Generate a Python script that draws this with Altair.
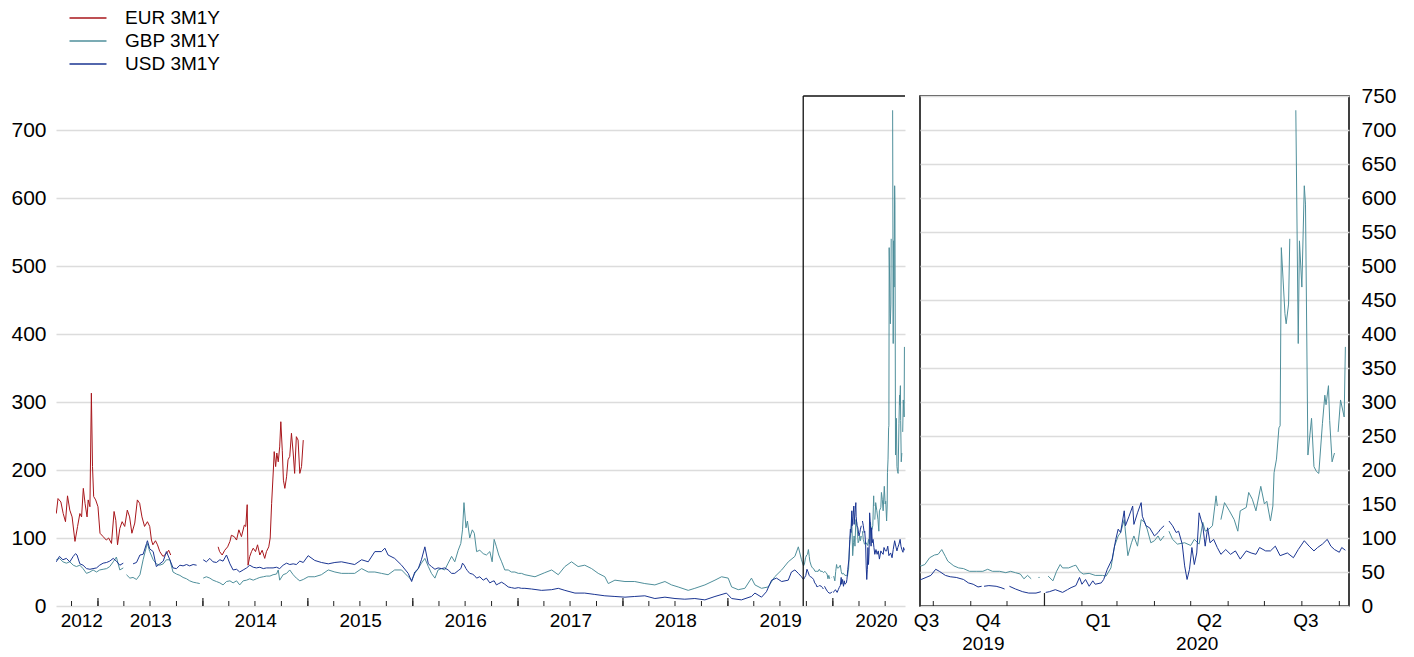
import altair as alt
import pandas as pd

SERIES = ["EUR 3M1Y", "GBP 3M1Y", "USD 3M1Y"]
COLORS = ["#a8161b", "#4f8f9b", "#1a3592"]

# ---- EUR 3M1Y (None marks a gap in the series) ----
EUR_DATES = [
    "2012-08-09", "2012-08-15", "2012-08-25", "2012-09-02", "2012-09-10", "2012-09-17", "2012-09-25", "2012-10-03", "2012-10-13", "2012-10-22",
    "2012-10-30", "2012-11-05", "2012-11-11", "2012-11-17", "2012-11-24", "2012-11-28", "2012-12-04", "2012-12-09", "2012-12-13", "2012-12-17",
    "2012-12-24", "2013-01-01", "2013-01-08", "2013-01-19", "2013-01-30", "2013-02-07", "2013-02-17", "2013-02-26", "2013-03-04", "2013-03-10",
    "2013-03-18", "2013-03-26", "2013-04-04", "2013-04-13", "2013-04-21", "2013-04-29", "2013-05-09", "2013-05-18", "2013-05-26", "2013-06-03",
    "2013-06-12", "2013-06-22", "2013-06-30", "2013-07-06", "2013-07-11", "2013-07-20", "2013-07-27", "2013-08-04", "2013-08-15", "2013-08-27",
    "2013-09-04", "2013-09-11",
    "2013-12-01",
    "2014-02-23", "2014-02-28", "2014-03-09", "2014-03-18", "2014-03-28", "2014-04-05", "2014-04-10", "2014-04-20", "2014-04-28", "2014-05-06",
    "2014-05-15", "2014-05-25", "2014-05-30", "2014-06-04", "2014-06-07", "2014-06-13", "2014-06-19", "2014-06-25", "2014-07-03", "2014-07-10",
    "2014-07-18", "2014-07-26", "2014-08-04", "2014-08-10", "2014-08-18", "2014-08-23", "2014-08-28", "2014-09-03", "2014-09-06", "2014-09-11",
    "2014-09-15", "2014-09-20", "2014-09-25", "2014-09-29", "2014-10-04", "2014-10-08", "2014-10-13", "2014-10-19", "2014-10-24", "2014-10-30",
    "2014-11-05", "2014-11-11", "2014-11-16", "2014-11-22", "2014-11-28", "2014-12-04", "2014-12-10", "2014-12-16",
]
EUR_VALUES = [
    136, 158, 153, 136, 124, 162, 141, 131, 95, 117,
    136, 131, 173, 151, 131, 156, 146, 313, 205, 161,
    156, 146, 107, 102, 97, 100, 92, 139, 126, 90,
    114, 124, 117, 141, 131, 107, 122, 156, 151, 131,
    117, 124, 117, 97, 90, 96, 90, 80, 73, 77,
    82, 75,
    None,
    87, 80, 75, 82, 87, 95, 104, 102, 97, 112,
    102, 119, 117, 149, 60, 73, 80, 85, 80, 90,
    75, 82, 70, 80, 87, 100, 151, 200, 227, 205,
    225, 212, 234, 271, 229, 185, 173, 190, 215, 220,
    254, 225, 195, 249, 244, 195, 205, 244,
]

# ---- GBP 3M1Y ----
GBP_DATES = [
    "2012-08-09", "2012-08-20", "2012-09-01", "2012-09-13", "2012-09-25", "2012-10-07", "2012-10-18", "2012-10-30", "2012-11-10", "2012-11-22",
    "2012-12-04", "2012-12-15", "2012-12-27", "2013-01-07", "2013-01-19", "2013-01-31", "2013-02-11", "2013-02-23", "2013-03-06", "2013-03-18",
    "2013-03-30", "2013-04-05", "2013-04-10", "2013-04-22", "2013-05-03", "2013-05-15", "2013-05-27", "2013-06-07", "2013-06-19", "2013-06-22",
    "2013-06-30", "2013-07-12", "2013-07-23", "2013-08-04", "2013-08-16", "2013-08-27", "2013-09-08", "2013-09-19", "2013-10-01", "2013-10-13",
    "2013-10-24", "2013-11-05", "2013-11-16", "2013-11-28", "2013-12-10", "2013-12-21", "2013-12-26", "2014-01-02", "2014-01-13", "2014-01-25",
    "2014-02-05", "2014-02-17", "2014-03-01", "2014-03-12", "2014-03-24", "2014-04-05", "2014-04-16", "2014-04-28", "2014-05-09", "2014-05-21",
    "2014-06-02", "2014-06-13", "2014-06-25", "2014-07-06", "2014-07-18", "2014-07-30", "2014-08-10", "2014-08-22", "2014-09-02", "2014-09-14",
    "2014-09-20", "2014-09-25", "2014-10-07", "2014-10-19", "2014-10-30", "2014-11-11", "2014-11-22", "2014-12-04", "2014-12-16", "2015-01-02",
    "2015-01-25", "2015-02-17", "2015-03-13", "2015-04-05", "2015-04-28", "2015-05-21", "2015-06-13", "2015-07-07", "2015-07-30", "2015-08-22",
    "2015-09-14", "2015-10-07", "2015-10-30", "2015-11-23", "2015-12-16", "2015-12-28", "2016-01-08", "2016-01-20", "2016-01-31", "2016-02-12",
    "2016-02-24", "2016-03-06", "2016-03-18", "2016-03-29", "2016-04-10", "2016-04-21", "2016-05-03", "2016-05-15", "2016-05-26", "2016-06-07",
    "2016-06-16", "2016-06-22", "2016-06-27", "2016-07-04", "2016-07-09", "2016-07-17", "2016-07-26", "2016-08-02", "2016-08-10", "2016-08-21",
    "2016-09-02", "2016-09-13", "2016-09-25", "2016-10-03", "2016-10-10", "2016-10-18", "2016-10-26", "2016-11-05", "2016-11-16", "2016-11-28",
    "2016-12-09", "2016-12-21", "2017-01-02", "2017-01-13", "2017-01-25", "2017-03-01", "2017-04-04", "2017-04-28", "2017-05-21", "2017-06-13",
    "2017-07-06", "2017-07-29", "2017-08-21", "2017-09-14", "2017-10-07", "2017-10-30", "2017-11-11", "2017-12-04", "2018-01-08", "2018-02-11",
    "2018-03-18", "2018-04-22", "2018-05-27", "2018-06-19", "2018-07-12", "2018-08-16", "2018-09-08", "2018-10-13", "2018-11-17", "2018-12-10",
    "2019-01-02", "2019-01-14", "2019-02-06", "2019-03-01", "2019-03-24", "2019-04-05", "2019-04-28", "2019-05-21", "2019-06-13", "2019-07-07",
    "2019-07-30", "2019-08-22", "2019-09-03", "2019-09-14", "2019-09-21", "2019-09-24", "2019-09-28", "2019-10-02", "2019-10-05", "2019-10-08",
    "2019-10-11", "2019-10-13", "2019-10-18", "2019-10-22", "2019-10-26", "2019-10-31", "2019-11-06", "2019-11-11", "2019-11-15", "2019-11-19",
    "2019-11-25", "2019-11-30", "2019-12-04", "2019-12-08", "2019-12-12", "2019-12-15", "2019-12-18", "2019-12-21", "2019-12-24", "2019-12-27",
    "2019-12-28", "2019-12-31", "2020-01-04", "2020-01-08", "2020-01-11", "2020-01-14", "2020-01-16", "2020-01-21", "2020-01-25", "2020-01-27",
    "2020-01-30", "2020-02-02", "2020-02-07", "2020-02-12", "2020-02-18", "2020-02-21", "2020-02-25", "2020-02-28", "2020-03-02", "2020-03-04",
    "2020-03-07", "2020-03-10", "2020-03-13", "2020-03-15", "2020-03-18", "2020-03-21", "2020-03-24", "2020-03-26", "2020-03-29", "2020-04-01",
    "2020-04-04", "2020-04-06", "2020-04-09", "2020-04-11", "2020-04-13", "2020-04-16", "2020-04-20", "2020-04-26", "2020-05-01", "2020-05-04",
    "2020-05-08", "2020-05-11", "2020-05-13", "2020-05-16", "2020-05-19", "2020-05-22", "2020-05-23", "2020-05-25", "2020-05-26", "2020-05-29",
    "2020-06-02", "2020-06-06", "2020-06-09", "2020-06-11", "2020-06-16", "2020-06-18", "2020-06-21", "2020-06-24", "2020-06-28", "2020-07-01",
    "2020-07-03", "2020-07-06", "2020-07-08", "2020-07-09", "2020-07-11", "2020-07-13", "2020-07-14", "2020-07-15", "2020-07-18", "2020-07-19",
    "2020-07-21", "2020-07-22", "2020-07-25", "2020-07-27", "2020-07-29", "2020-07-30", "2020-08-01", "2020-08-03", "2020-08-04", "2020-08-06",
    "2020-08-09", "2020-08-11", "2020-08-13", "2020-08-15", "2020-08-18", "2020-08-20", "2020-08-21", "2020-08-23", "2020-08-24", "2020-08-26",
    "2020-08-28", "2020-08-30", "2020-08-31", "2020-09-02", "2020-09-05", "2020-09-06",
]
GBP_VALUES = [
    68, 70, 65, 63, 65, 60, 58, 60, 55, 48,
    50, 53, 50, 53, 54, 55, 58, 65, 72, 53,
    56, None, 46, 41, 42, 39, 46, 68, 88, 92,
    80, 68, 62, 60, 62, 68, 68, 50, 47, 45,
    42, 40, 37, 35, 34, 33, None, 41, 43, 41,
    38, 36, 34, 31, 36, 37, 34, 37, 31, 37,
    38, 40, 38, 40, 42, 43, 44, 44, 46, 47,
    53, 38, 46, 48, 53, 46, 41, 37, 39, 43,
    43, 46, 53, 50, 48, 48, 48, 55, 50, 50,
    48, 46, 53, 53, 43, 38, 48, 55, 63, 70,
    58, 48, 41, 53, 55, 53, 63, 73, 65, 82,
    92, 112, 152, 115, 125, 100, 112, 107, 80, 82,
    77, 75, 80, 65, 98, 87, 75, 65, 53, 53,
    50, 50, 48, 48, 46, 43, 49, 53, 46, 58,
    65, 58, 60, 55, 48, 43, 33, 38, 36, 36,
    33, 31, 36, 31, 28, 23, 26, 31, 38, 43,
    41, 28, 24, 26, 41, 31, 26, 28, 43, 53,
    65, 73, 87, 68, 59, 61, 71, 75, 76, 83,
    73, 66, 59, 56, 55, 51, 51, 51, 54, 51,
    51, 49, 51, 49, 47, 40, 45, 40, None, 42,
    42, None, 44, 37, 51, 61, 56, 56, 59, 60,
    51, 47, 48, 45, 45, 44, 56, 88, 103, 108,
    127, 74, 93, 103, 88, 127, 123, 113, 93, 96,
    103, 96, 103, None, 110, 98, 91, 93, 89, 98,
    91, 123, 110, 113, 118, 162, 147, None, 127, 152,
    140, 127, 110, 140, 145, 167, 157, 140, 176, 150,
    154, 125, 147, 196, 216, 262, 265, 527, 430, 415,
    444, 540, None, 729, 386, 537, 469, 618, 591, 222,
    276, 205, 198, 195, 268, 310, 296, 324, 273, 212,
    225, None, 256, 303, 278, 381,
]

# ---- USD 3M1Y ----
USD_DATES = [
    "2012-08-09", "2012-08-20", "2012-09-01", "2012-09-13", "2012-09-25", "2012-10-07", "2012-10-15", "2012-10-20", "2012-10-30", "2012-11-10",
    "2012-11-22", "2012-12-04", "2012-12-15", "2012-12-27", "2013-01-07", "2013-01-19", "2013-01-31", "2013-02-11", "2013-02-23", "2013-03-06",
    "2013-03-18", "2013-03-30", "2013-04-15", "2013-05-03", "2013-05-15", "2013-05-27", "2013-06-07", "2013-06-19", "2013-06-22", "2013-06-30",
    "2013-07-12", "2013-07-23", "2013-08-04", "2013-08-16", "2013-08-27", "2013-09-08", "2013-09-19", "2013-10-01", "2013-10-13", "2013-10-24",
    "2013-11-05", "2013-11-16", "2013-11-28", "2013-12-10", "2013-12-26", "2014-01-02", "2014-01-13", "2014-01-25", "2014-02-05", "2014-02-17",
    "2014-03-01", "2014-03-12", "2014-03-24", "2014-04-05", "2014-04-16", "2014-04-28", "2014-05-09", "2014-05-21", "2014-06-02", "2014-06-13",
    "2014-06-25", "2014-07-06", "2014-07-18", "2014-07-30", "2014-08-10", "2014-08-22", "2014-09-02", "2014-09-14", "2014-09-25", "2014-10-07",
    "2014-10-19", "2014-10-30", "2014-11-11", "2014-11-22", "2014-12-04", "2014-12-16", "2015-01-02", "2015-01-25", "2015-02-17", "2015-03-13",
    "2015-04-05", "2015-04-28", "2015-05-21", "2015-06-13", "2015-07-07", "2015-07-30", "2015-08-22", "2015-09-14", "2015-09-26", "2015-10-07",
    "2015-10-30", "2015-11-23", "2015-12-16", "2015-12-28", "2016-01-08", "2016-01-20", "2016-01-31", "2016-02-12", "2016-02-24", "2016-03-06",
    "2016-03-18", "2016-03-29", "2016-04-10", "2016-04-21", "2016-05-03", "2016-05-15", "2016-05-26", "2016-06-07", "2016-06-16", "2016-06-22",
    "2016-06-28", "2016-07-04", "2016-07-09", "2016-07-17", "2016-07-26", "2016-08-02", "2016-08-10", "2016-08-21", "2016-09-02", "2016-09-13",
    "2016-09-25", "2016-10-03", "2016-10-10", "2016-10-18", "2016-10-26", "2016-11-05", "2016-11-16", "2016-11-28", "2016-12-09", "2016-12-21",
    "2017-01-02", "2017-01-13", "2017-01-25", "2017-02-17", "2017-03-24", "2017-04-28", "2017-05-21", "2017-06-13", "2017-07-18", "2017-08-21",
    "2017-09-25", "2017-10-30", "2017-12-04", "2018-01-08", "2018-02-11", "2018-03-18", "2018-04-22", "2018-05-27", "2018-07-01", "2018-08-04",
    "2018-09-08", "2018-10-13", "2018-11-17", "2018-12-27", "2019-01-14", "2019-02-17", "2019-03-24", "2019-04-05", "2019-04-28", "2019-05-15",
    "2019-06-02", "2019-06-19", "2019-07-07", "2019-07-30", "2019-08-10", "2019-08-22", "2019-09-03", "2019-09-14", "2019-09-21", "2019-09-25",
    "2019-09-29", "2019-10-03", "2019-10-06", "2019-10-11", "2019-10-15", "2019-10-20", "2019-10-26", "2019-10-30", "2019-11-03", "2019-11-07",
    "2019-11-10", "2019-11-11", "2019-11-12", "2019-11-16", "2019-11-22", "2019-11-26", "2019-11-29", "2019-12-01", "2019-12-03", "2019-12-08",
    "2019-12-14", "2019-12-19", "2019-12-25", "2019-12-29", "2019-12-31", "2020-01-02", "2020-01-05", "2020-01-10", "2020-01-16", "2020-01-20",
    "2020-01-23", "2020-01-27", "2020-01-30", "2020-02-01", "2020-02-04", "2020-02-07", "2020-02-10", "2020-02-12", "2020-02-17", "2020-02-19",
    "2020-02-22", "2020-02-26", "2020-02-29", "2020-03-02", "2020-03-04", "2020-03-07", "2020-03-08", "2020-03-11", "2020-03-14", "2020-03-15",
    "2020-03-18", "2020-03-21", "2020-03-22", "2020-03-25", "2020-03-28", "2020-04-01", "2020-04-04", "2020-04-06", "2020-04-09", "2020-04-11",
    "2020-04-13", "2020-04-16", "2020-04-19", "2020-04-21", "2020-04-24", "2020-04-26", "2020-04-28", "2020-04-30", "2020-05-02", "2020-05-04",
    "2020-05-06", "2020-05-08", "2020-05-11", "2020-05-13", "2020-05-15", "2020-05-17", "2020-05-20", "2020-05-23", "2020-05-26", "2020-05-30",
    "2020-06-03", "2020-06-07", "2020-06-11", "2020-06-16", "2020-06-20", "2020-06-24", "2020-06-27", "2020-07-02", "2020-07-06", "2020-07-10",
    "2020-07-14", "2020-07-20", "2020-07-25", "2020-07-29", "2020-08-03", "2020-08-07", "2020-08-11", "2020-08-14", "2020-08-18", "2020-08-22",
    "2020-08-25", "2020-08-28", "2020-09-01", "2020-09-03", "2020-09-06",
]
USD_VALUES = [
    65, 73, 68, 70, 65, 73, 77, 75, 62, 60,
    55, 54, 55, 56, 60, 63, 64, 66, 70, 66,
    60, 63, None, 62, 64, 75, 76, 92, 96, 84,
    80, 58, 62, 66, 80, 68, 56, 55, 60, 59,
    61, 59, 61, 60, None, 68, 65, 70, 65, 64,
    68, 66, 75, 62, 53, 54, 50, 53, 56, 60,
    57, 56, 57, 55, 56, 56, 56, 57, 55, 60,
    63, 61, 62, 61, 66, 64, 74, 67, 64, 62,
    64, 65, 63, 61, 68, 65, 80, 80, 85, 75,
    70, 60, 48, 36, 50, 55, 68, 87, 62, 58,
    54, 56, 55, 56, 53, 48, 48, 52, 55, 63,
    60, 55, 52, 48, 47, 45, 41, 43, 38, 41,
    34, 36, 37, 31, 33, 35, 32, 28, 27, 26,
    27, 26, 26, 25, 23, 24, 26, 23, 19, 19,
    17, 15, 14, 13, 14, 15, 11, 13, 11, 10,
    11, 9, 14, 19, 11, 9, 14, 19, 13, 21,
    38, 41, 36, 38, 50, 53, 48, 43, 39, 42,
    45, 54, 51, 45, 43, 42, 39, 34, 32, 28,
    29, None, 29, 30, 29, 27, 25, None, 29, 25,
    21, 19, 19, 21, None, 20, 21, 24, 20, 24,
    27, 30, 42, 32, 39, 29, 37, 32, 34, 39,
    54, 69, 98, 113, 108, 140, 118, 132, 147, 120,
    137, 152, 132, 118, 115, 103, 108, 113, 118, None,
    125, 118, 108, 110, 91, 59, 39, 54, 86, 61,
    78, 137, 118, 88, 115, 93, 98, 86, 76, 83,
    76, 81, 69, 81, 78, 76, 86, 81, 81, 88,
    74, 78, 71, 83, 96, 88, 81, 86, 91, 98,
    88, 83, 79, 86, 82,
]

# ---- axes / layout values ----
LEFT_DOMAIN = ["2012-08-08", "2020-09-08"]
RIGHT_DOMAIN = ["2019-09-20", "2020-09-09"]
ZOOM_BOX = ["2019-09-20", "2020-09-08"]
LEFT_LABEL_DATES = ["2012-11-04", "2013-07-02", "2014-07-02", "2015-07-02", "2016-07-01",
                    "2017-07-02", "2018-07-02", "2019-07-02", "2020-05-30"]
RIGHT_QUARTER_LABEL_DATES = ["2019-09-25", "2019-11-15", "2020-02-14", "2020-05-16", "2020-08-04"]
RIGHT_YEAR_LABEL_DATES = ["2019-11-11", "2020-05-06"]
LEFT_Y_TICKS = [0, 100, 200, 300, 400, 500, 600, 700]
RIGHT_Y_TICKS = [0, 50, 100, 150, 200, 250, 300, 350, 400, 450, 500, 550, 600, 650, 700, 750]
Y_MAX = 750

LEFT_QUARTER_TICKS = [d.strftime("%Y-%m-%d") for d in pd.date_range("2012-10-01", "2020-07-01", freq="QS")]
LEFT_YEAR_TICKS = [d.strftime("%Y-%m-%d") for d in pd.date_range("2013-01-01", "2020-01-01", freq="YS")]
RIGHT_MONTH_TICKS = [d.strftime("%Y-%m-%d") for d in pd.date_range("2019-10-01", "2020-09-01", freq="MS")]
RIGHT_YEAR_TICKS = ["2020-01-01"]

FONT = "Liberation Sans"
W_L, W_R, H = 849, 429, 510


def to_dt(s):
    y, m, d = (int(p) for p in s.split("-"))
    return alt.DateTime(year=y, month=m, date=d)


def series_rows(name, dates, values):
    assert len(dates) == len(values), name
    out, seg = [], 0
    for d, v in zip(dates, values):
        if v is None:
            seg += 1
            continue
        out.append({"date": d, "value": v, "series": name, "seg": f"{name}-{seg}"})
    return out


df = pd.DataFrame(
    series_rows(SERIES[0], EUR_DATES, EUR_VALUES)
    + series_rows(SERIES[1], GBP_DATES, GBP_VALUES)
    + series_rows(SERIES[2], USD_DATES, USD_VALUES)
)

color = alt.Color(
    "series:N",
    scale=alt.Scale(domain=SERIES, range=COLORS),
    legend=alt.Legend(
        title=None, orient="none", legendX=22, legendY=-88, direction="vertical",
        symbolType="M-2,0H2", symbolSize=342, symbolStrokeWidth=1.5,
        labelFontSize=19, labelFont=FONT, labelOffset=27, rowPadding=3, padding=0,
    ),
)

left_x_scale = alt.Scale(domain=[to_dt(d) for d in LEFT_DOMAIN])
right_x_scale = alt.Scale(domain=[to_dt(d) for d in RIGHT_DOMAIN])
y_scale = alt.Scale(domain=[0, Y_MAX], nice=False)

# ---------------- left panel ----------------
left_lines = alt.Chart(df).mark_line(strokeWidth=1, clip=True).encode(
    x=alt.X("date:T", scale=left_x_scale,
            axis=alt.Axis(values=[to_dt(d) for d in LEFT_LABEL_DATES], format="%Y", ticks=False,
                          domain=False, grid=False, labelPadding=5, title=None, orient="bottom",
                          labelOverlap=False, labelFlush=False)),
    y=alt.Y("value:Q", scale=y_scale,
            axis=alt.Axis(values=LEFT_Y_TICKS, ticks=False, domain=False, grid=True,
                          labelPadding=10, labelFontSize=21, title=None)),
    color=color,
    detail="seg:N",
)

lq = alt.Chart(pd.DataFrame({"date": LEFT_QUARTER_TICKS})).mark_rule(color="#222", strokeWidth=1).encode(
    x=alt.X("date:T", scale=left_x_scale, axis=None), y=alt.value(H), y2=alt.value(H - 5))
ly = alt.Chart(pd.DataFrame({"date": LEFT_YEAR_TICKS})).mark_rule(color="#222", strokeWidth=1.2).encode(
    x=alt.X("date:T", scale=left_x_scale, axis=None), y=alt.value(H), y2=alt.value(H - 8))

box_df = pd.DataFrame({"start": [ZOOM_BOX[0]], "end": [ZOOM_BOX[1]]})
box_v = alt.Chart(box_df).mark_rule(color="#111", strokeWidth=1.3).encode(
    x=alt.X("start:T", scale=left_x_scale, axis=None), y=alt.value(0), y2=alt.value(H))
box_h = alt.Chart(box_df).mark_rule(color="#111", strokeWidth=1.3).encode(
    x=alt.X("start:T", scale=left_x_scale, axis=None), x2="end:T", y=alt.value(0))

left = (
    alt.layer(left_lines, lq, ly, box_v, box_h)
    .resolve_axis(x="independent")
    .properties(width=W_L, height=H)
)

# ---------------- right panel ----------------
right_lines = alt.Chart(df).mark_line(strokeWidth=1, clip=True).encode(
    x=alt.X("date:T", scale=right_x_scale,
            axis=alt.Axis(values=[to_dt(d) for d in RIGHT_QUARTER_LABEL_DATES],
                          labelExpr="'Q' + quarter(datum.value)", ticks=False, domain=False,
                          grid=False, labelPadding=5, title=None, orient="bottom",
                          labelOverlap=False, labelFlush=False)),
    y=alt.Y("value:Q", scale=y_scale,
            axis=alt.Axis(values=RIGHT_Y_TICKS, orient="right", ticks=False, domain=False,
                          grid=True, labelPadding=12, labelFontSize=21, title=None)),
    color=color,
    detail="seg:N",
)

rm = alt.Chart(pd.DataFrame({"date": RIGHT_MONTH_TICKS})).mark_rule(color="#222", strokeWidth=1).encode(
    x=alt.X("date:T", scale=right_x_scale,
            axis=alt.Axis(values=[to_dt(d) for d in RIGHT_YEAR_LABEL_DATES], format="%Y",
                          ticks=False, domain=False, grid=False, labelPadding=28, title=None,
                          orient="bottom", labelOverlap=False, labelFlush=False)),
    y=alt.value(H), y2=alt.value(H - 5))
ryt = alt.Chart(pd.DataFrame({"date": RIGHT_YEAR_TICKS})).mark_rule(color="#222", strokeWidth=1.2).encode(
    x=alt.X("date:T", scale=right_x_scale, axis=None), y=alt.value(H), y2=alt.value(H - 13))

right = (
    alt.layer(right_lines, rm, ryt)
    .resolve_axis(x="independent")
    .properties(width=W_R, height=H, view=alt.ViewBackground(stroke="#111", strokeWidth=1.6))
)

chart = (
    alt.hconcat(left, right, spacing=15, bounds="flush")
    .resolve_scale(x="independent", y="independent", color="shared")
    .properties(padding={"left": 2, "top": 0, "right": 5, "bottom": 0})
    .configure_view(strokeWidth=0)
    .configure_axis(labelFont=FONT, labelFontSize=19, labelColor="#000",
                    gridColor="#dcdcdc", gridWidth=1.3)
    .configure_legend(labelColor="#000")
)

chart.save("out.html", embed_options={"renderer": "svg", "actions": False})
